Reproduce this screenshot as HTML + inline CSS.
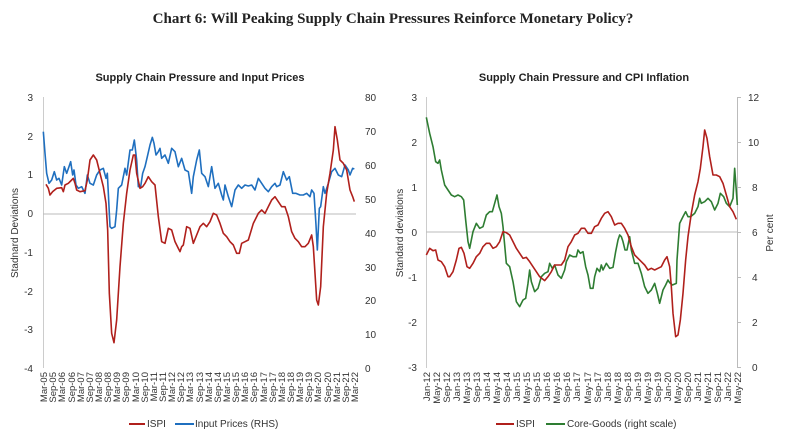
<!DOCTYPE html>
<html><head><meta charset="utf-8"><style>
body{margin:0;background:#fff;}
svg{display:block;font-family:"Liberation Sans",sans-serif;}
.t{font-size:10px;fill:#333;}
.x{font-size:9.5px;fill:#333;}
</style></head><body>
<svg width="786" height="445" viewBox="0 0 786 445" xmlns="http://www.w3.org/2000/svg">
<text x="393" y="23" text-anchor="middle" font-family="Liberation Serif,serif" font-weight="bold" font-size="15" fill="#222">Chart 6: Will Peaking Supply Chain Pressures Reinforce Monetary Policy?</text>
<text x="200" y="81" text-anchor="middle" font-weight="bold" font-size="11" fill="#222">Supply Chain Pressure and Input Prices</text>
<text x="584" y="81" text-anchor="middle" font-weight="bold" font-size="11" fill="#222">Supply Chain Pressure and CPI Inflation</text>

<!-- LEFT CHART -->
<line x1="43.5" y1="97" x2="43.5" y2="368" stroke="#ccc"/>
<line x1="43" y1="214" x2="356" y2="214" stroke="#bbb"/>
<g class="t" text-anchor="end">
<text x="33" y="101">3</text><text x="33" y="140">2</text><text x="33" y="178">1</text><text x="33" y="217">0</text><text x="33" y="256">-1</text><text x="33" y="295">-2</text><text x="33" y="333">-3</text><text x="33" y="372">-4</text>
</g>
<g class="t">
<text x="365" y="101">80</text><text x="365" y="135">70</text><text x="365" y="169">60</text><text x="365" y="203">50</text><text x="365" y="237">40</text><text x="365" y="271">30</text><text x="365" y="304">20</text><text x="365" y="338">10</text><text x="365" y="372">0</text>
</g>
<text transform="translate(18,233) rotate(-90)" text-anchor="middle" class="t">Stadnard Deviations</text>
<g transform="translate(0,60) scale(0.33333)" fill="none" stroke-width="4.8" stroke-linejoin="round">
<polyline stroke="#1f6fbf" points="130,215 135,280 140,340 147,370 155,360 163,335 170,360 177,355 185,375 193,320 200,340 207,320 212,305 218,345 222,330 228,375 235,385 245,380 255,400 262,345 270,370 280,375 290,345 300,330 310,325 318,355 322,340 330,500 335,505 345,500 350,450 355,385 365,375 375,325 380,345 390,270 397,270 403,240 410,300 415,380 422,380 428,340 435,320 442,290 450,255 457,232 462,250 468,285 475,275 480,265 485,295 495,285 505,310 515,265 525,275 535,320 545,295 555,330 565,335 575,400 580,350 590,300 598,270 605,340 615,350 625,380 635,320 645,385 655,370 665,405 670,420 675,375 685,410 695,440 705,390 715,375 725,385 735,375 745,378 755,375 765,390 775,355 785,370 795,385 805,395 815,380 825,370 830,380 840,375 850,335 860,360 868,350 878,400 888,400 900,405 910,405 920,400 930,410 935,390 942,400 948,495 952,570 958,445 962,440 970,380 975,400 985,370 995,335 1005,325 1015,345 1025,350 1035,315 1045,330 1050,345 1058,325 1063,327"/>
<polyline stroke="#b0201c" points="138,373 145,385 150,405 158,395 170,385 185,383 190,395 195,375 205,370 215,360 220,355 225,370 230,390 240,395 255,392 262,360 270,300 280,285 290,300 300,340 310,380 318,430 323,510 328,700 335,820 342,848 350,780 360,620 370,490 380,400 390,330 400,285 405,285 410,340 420,385 428,380 435,370 445,350 455,365 465,375 475,470 485,545 495,550 505,505 515,510 525,545 535,565 540,575 545,560 550,555 560,500 570,505 580,550 590,525 600,500 610,490 620,500 630,485 640,460 650,465 660,490 670,520 680,530 690,545 700,555 710,580 718,580 725,550 735,545 745,540 760,490 775,460 785,450 795,460 805,440 815,420 825,410 835,425 845,440 855,440 865,470 875,515 885,535 895,545 905,560 915,560 925,550 935,525 940,560 945,640 950,720 955,735 962,680 970,500 980,400 990,340 1000,270 1005,200 1012,240 1020,300 1030,310 1040,330 1050,390 1058,410 1063,425"/>
</g>
<g class="x" text-anchor="end">
<text transform="translate(47,372) rotate(-90)">Mar-05</text><text transform="translate(56,372) rotate(-90)">Sep-05</text><text transform="translate(65,372) rotate(-90)">Mar-06</text><text transform="translate(75,372) rotate(-90)">Sep-06</text><text transform="translate(84,372) rotate(-90)">Mar-07</text><text transform="translate(93,372) rotate(-90)">Sep-07</text><text transform="translate(102,372) rotate(-90)">Mar-08</text><text transform="translate(111,372) rotate(-90)">Sep-08</text><text transform="translate(120,372) rotate(-90)">Mar-09</text><text transform="translate(129,372) rotate(-90)">Sep-09</text><text transform="translate(139,372) rotate(-90)">Mar-10</text><text transform="translate(148,372) rotate(-90)">Sep-10</text><text transform="translate(157,372) rotate(-90)">Mar-11</text><text transform="translate(166,372) rotate(-90)">Sep-11</text><text transform="translate(175,372) rotate(-90)">Mar-12</text><text transform="translate(184,372) rotate(-90)">Sep-12</text><text transform="translate(193,372) rotate(-90)">Mar-13</text><text transform="translate(203,372) rotate(-90)">Sep-13</text><text transform="translate(212,372) rotate(-90)">Mar-14</text><text transform="translate(221,372) rotate(-90)">Sep-14</text><text transform="translate(230,372) rotate(-90)">Mar-15</text><text transform="translate(239,372) rotate(-90)">Sep-15</text><text transform="translate(248,372) rotate(-90)">Mar-16</text><text transform="translate(257,372) rotate(-90)">Sep-16</text><text transform="translate(267,372) rotate(-90)">Mar-17</text><text transform="translate(276,372) rotate(-90)">Sep-17</text><text transform="translate(285,372) rotate(-90)">Mar-18</text><text transform="translate(294,372) rotate(-90)">Sep-18</text><text transform="translate(303,372) rotate(-90)">Mar-19</text><text transform="translate(312,372) rotate(-90)">Sep-19</text><text transform="translate(321,372) rotate(-90)">Mar-20</text><text transform="translate(331,372) rotate(-90)">Sep-20</text><text transform="translate(340,372) rotate(-90)">Mar-21</text><text transform="translate(349,372) rotate(-90)">Sep-21</text><text transform="translate(358,372) rotate(-90)">Mar-22</text>
</g>
<line x1="129" y1="424" x2="145" y2="424" stroke="#b0201c" stroke-width="2"/>
<text x="147" y="427" class="t">ISPI</text>
<line x1="175" y1="424" x2="194" y2="424" stroke="#1f6fbf" stroke-width="2"/>
<text x="195" y="427" class="t">Input Prices (RHS)</text>

<!-- RIGHT CHART -->
<line x1="426.5" y1="97" x2="426.5" y2="368" stroke="#ccc"/>
<line x1="737.5" y1="97" x2="737.5" y2="368" stroke="#bbb"/>
<g stroke="#bbb"><line x1="737" y1="97.5" x2="741" y2="97.5"/><line x1="737" y1="142.5" x2="741" y2="142.5"/><line x1="737" y1="187.5" x2="741" y2="187.5"/><line x1="737" y1="232.5" x2="741" y2="232.5"/><line x1="737" y1="277.5" x2="741" y2="277.5"/><line x1="737" y1="322.5" x2="741" y2="322.5"/><line x1="737" y1="367.5" x2="741" y2="367.5"/></g>
<line x1="426" y1="232" x2="737" y2="232" stroke="#bbb"/>
<g class="t" text-anchor="end">
<text x="417" y="101">3</text><text x="417" y="146">2</text><text x="417" y="191">1</text><text x="417" y="236">0</text><text x="417" y="281">-1</text><text x="417" y="326">-2</text><text x="417" y="371">-3</text>
</g>
<g class="t">
<text x="748" y="101">12</text><text x="748" y="146">10</text><text x="752" y="191">8</text><text x="752" y="236">6</text><text x="752" y="281">4</text><text x="752" y="326">2</text><text x="752" y="371">0</text>
</g>
<text transform="translate(403,233) rotate(-90)" text-anchor="middle" class="t">Standard deviations</text>
<text transform="translate(773,233) rotate(-90)" text-anchor="middle" class="t">Per cent</text>
<g transform="translate(393,60) scale(0.33333)" fill="none" stroke-width="4.8" stroke-linejoin="round">
<polyline stroke="#2e7d32" points="100,172 110,220 120,260 128,305 135,310 140,300 145,330 155,375 165,390 175,405 185,410 195,405 205,410 212,420 218,480 225,545 230,565 240,515 250,490 260,505 270,500 280,465 290,455 298,455 305,430 312,405 318,440 325,460 330,500 340,610 350,620 360,665 370,725 380,740 390,720 398,715 405,670 410,630 415,665 425,695 435,685 445,650 455,640 465,635 470,610 478,625 485,615 495,645 505,655 515,630 520,605 530,585 540,590 550,590 555,570 562,580 570,575 578,620 585,645 592,685 600,685 605,650 612,625 620,635 625,615 630,630 640,610 650,625 660,622 668,575 675,540 680,525 685,530 690,545 696,570 702,570 710,530 715,570 725,610 735,610 745,640 755,680 765,700 775,690 785,670 793,700 800,730 810,690 818,675 825,660 830,668 838,675 850,670 852,600 860,490 870,470 878,455 885,470 893,470 905,460 915,440 920,415 925,430 935,425 945,415 955,425 965,450 975,430 982,400 992,410 1000,430 1010,440 1020,415 1025,325 1033,435"/>
<polyline stroke="#b0201c" points="100,585 110,565 120,572 128,570 135,600 145,605 155,620 165,650 170,650 180,635 190,600 198,565 205,562 213,580 222,620 230,625 240,610 250,590 260,580 270,560 280,550 290,550 300,565 310,560 320,545 330,515 340,518 350,525 360,545 370,565 380,580 390,595 400,592 410,605 420,620 430,635 440,650 455,662 465,650 475,635 485,615 495,615 505,615 515,600 525,560 535,545 545,525 555,520 565,505 575,505 585,520 595,520 605,500 615,495 625,475 635,460 645,455 655,470 665,495 675,490 685,490 695,505 705,525 715,560 725,585 735,595 745,605 755,615 765,630 775,625 785,630 795,625 805,620 815,600 822,590 830,620 835,680 840,760 848,830 855,825 862,780 870,700 878,600 885,530 895,460 905,405 915,365 922,325 930,260 935,210 942,235 950,290 960,345 970,345 980,350 990,370 1000,405 1010,440 1020,455 1030,478"/>
</g>
<g class="x" text-anchor="end">
<text transform="translate(430,372) rotate(-90)">Jan-12</text><text transform="translate(440,372) rotate(-90)">May-12</text><text transform="translate(450,372) rotate(-90)">Sep-12</text><text transform="translate(460,372) rotate(-90)">Jan-13</text><text transform="translate(470,372) rotate(-90)">May-13</text><text transform="translate(480,372) rotate(-90)">Sep-13</text><text transform="translate(490,372) rotate(-90)">Jan-14</text><text transform="translate(500,372) rotate(-90)">May-14</text><text transform="translate(510,372) rotate(-90)">Sep-14</text><text transform="translate(520,372) rotate(-90)">Jan-15</text><text transform="translate(530,372) rotate(-90)">May-15</text><text transform="translate(540,372) rotate(-90)">Sep-15</text><text transform="translate(550,372) rotate(-90)">Jan-16</text><text transform="translate(560,372) rotate(-90)">May-16</text><text transform="translate(570,372) rotate(-90)">Sep-16</text><text transform="translate(580,372) rotate(-90)">Jan-17</text><text transform="translate(591,372) rotate(-90)">May-17</text><text transform="translate(601,372) rotate(-90)">Sep-17</text><text transform="translate(611,372) rotate(-90)">Jan-18</text><text transform="translate(621,372) rotate(-90)">May-18</text><text transform="translate(631,372) rotate(-90)">Sep-18</text><text transform="translate(641,372) rotate(-90)">Jan-19</text><text transform="translate(651,372) rotate(-90)">May-19</text><text transform="translate(661,372) rotate(-90)">Sep-19</text><text transform="translate(671,372) rotate(-90)">Jan-20</text><text transform="translate(681,372) rotate(-90)">May-20</text><text transform="translate(691,372) rotate(-90)">Sep-20</text><text transform="translate(701,372) rotate(-90)">Jan-21</text><text transform="translate(711,372) rotate(-90)">May-21</text><text transform="translate(721,372) rotate(-90)">Sep-21</text><text transform="translate(731,372) rotate(-90)">Jan-22</text><text transform="translate(741,372) rotate(-90)">May-22</text>
</g>
<line x1="496" y1="424" x2="514" y2="424" stroke="#b0201c" stroke-width="2"/>
<text x="516" y="427" class="t">ISPI</text>
<line x1="546" y1="424" x2="565" y2="424" stroke="#2e7d32" stroke-width="2"/>
<text x="567" y="427" class="t">Core-Goods (right scale)</text>
</svg>
</body></html>
